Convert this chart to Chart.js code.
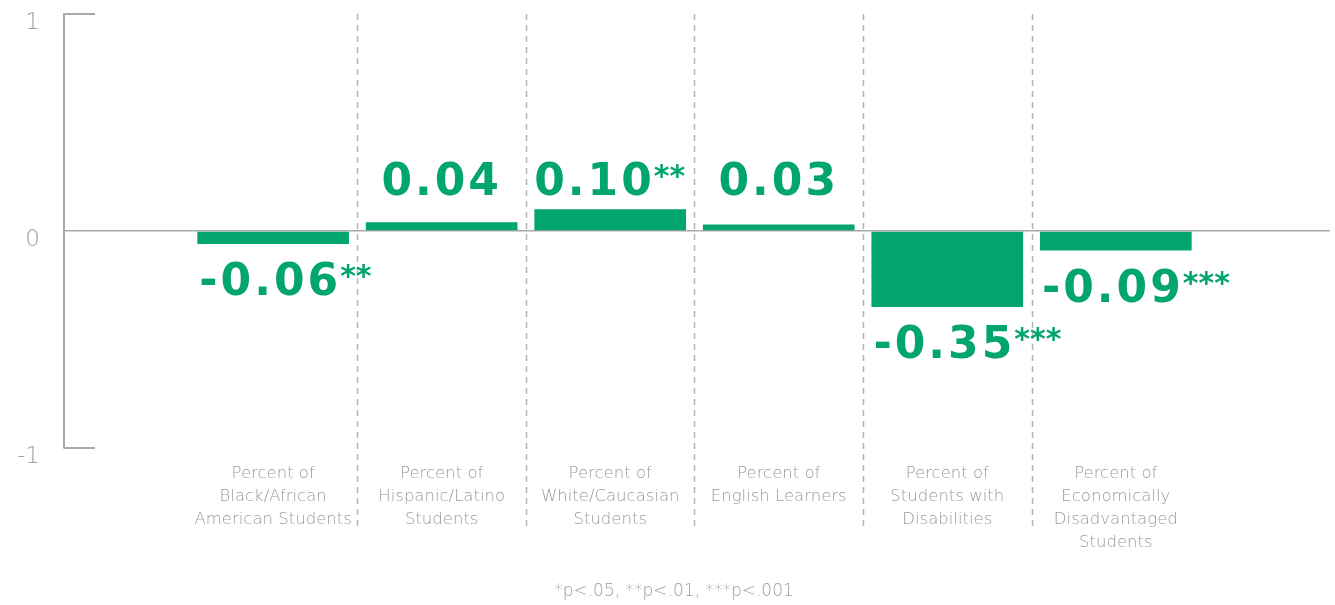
<!DOCTYPE html>
<html>
<head>
<meta charset="utf-8">
<script src="https://cdn.jsdelivr.net/npm/chart.js@4/dist/chart.umd.min.js"></script>
<style>
  html, body { margin: 0; padding: 0; background: #fff; }
  #wrap { width: 1335px; height: 605px; position: relative; }
</style>
</head>
<body>
<div id="wrap"><canvas id="effectChart"></canvas></div>
<script>
// categories (one entry per bar, split into the printed lines)
const categories = [
  ['Percent of', 'Black/African', 'American Students'],
  ['Percent of', 'Hispanic/Latino', 'Students'],
  ['Percent of', 'White/Caucasian', 'Students'],
  ['Percent of', 'English Learners'],
  ['Percent of', 'Students with', 'Disabilities'],
  ['Percent of', 'Economically', 'Disadvantaged', 'Students']
];
const effects = [-0.06, 0.04, 0.10, 0.03, -0.35, -0.09];
const stars = ['**', '', '**', '', '***', '***'];
const yTicks = [-1, 0, 1];
const footnote = '*p<.05, **p<.01, ***p<.001';

const green = '#02a56b';
const grey = '#a9a9a9';

// dashed separators, short axis ticks, value labels and footnote
const decorations = {
  id: 'decorations',
  beforeDatasetsDraw(chart) {
    const { ctx, chartArea, scales: { x, y } } = chart;
    ctx.save();
    ctx.strokeStyle = '#b4b4b4';
    ctx.lineWidth = 1.5;
    ctx.setLineDash([6, 5]);
    for (let i = 0; i < categories.length - 1; i++) {
      const px = Math.round(x.getPixelForValue(i + 0.5)) + 0.5;
      ctx.beginPath();
      ctx.moveTo(px, chartArea.top);
      ctx.lineTo(px, chartArea.bottom + 82);
      ctx.stroke();
    }
    ctx.setLineDash([]);
    ctx.strokeStyle = grey;
    ctx.lineWidth = 2;
    [yTicks[0], yTicks[yTicks.length - 1]].forEach(v => {
      const py = y.getPixelForValue(v);
      ctx.beginPath();
      ctx.moveTo(chartArea.left, py);
      ctx.lineTo(chartArea.left + 31, py);
      ctx.stroke();
    });
    ctx.restore();
  },
  afterDatasetsDraw(chart) {
    const { ctx, scales: { y } } = chart;
    const bars = chart.getDatasetMeta(0).data;
    const numFont = 'bold 44px "DejaVu Sans"';
    const starFont = 'bold 30px "DejaVu Sans"';
    ctx.save();
    ctx.fillStyle = green;
    ctx.textBaseline = 'alphabetic';
    ctx.textAlign = 'left';
    bars.forEach((bar, i) => {
      const v = effects[i];
      const num = (v < 0 ? '-' : '') + Math.abs(v).toFixed(2);
      ctx.font = numFont;
      ctx.letterSpacing = '3px';
      const wNum = ctx.measureText(num).width;
      ctx.font = starFont;
      ctx.letterSpacing = '0px';
      const wStar = stars[i] ? ctx.measureText(stars[i]).width : 0;
      let left, base;
      if (v < 0) {
        left = bar.x - bar.width / 2 + 2;
        base = bar.y + 51;
      } else {
        left = bar.x - (wNum + wStar) / 2;
        base = y.getPixelForValue(0.165);
      }
      ctx.font = numFont;
      ctx.letterSpacing = '3px';
      ctx.fillText(num, left, base);
      if (stars[i]) {
        ctx.font = starFont;
        ctx.letterSpacing = '0px';
        ctx.fillText(stars[i], left + wNum - 1, base - 9);
      }
    });
    ctx.letterSpacing = '0px';
    ctx.font = '200 17px "DejaVu Sans"';
    ctx.fillStyle = '#9a9a9a';
    ctx.textAlign = 'center';
    ctx.textBaseline = 'middle';
    ctx.fillText(footnote, 674, 592);
    ctx.restore();
  }
};

const ctx = document.getElementById('effectChart').getContext('2d');
const effectChart = new Chart(ctx, {
  type: 'bar',
  data: {
    datasets: [{
      data: effects.map((v, i) => ({ x: i, y: v })),
      backgroundColor: green,
      borderWidth: 0,
      categoryPercentage: 1.0,
      barPercentage: 0.9
    }]
  },
  options: {
    responsive: true,
    maintainAspectRatio: false,
    animation: false,
    layout: { padding: { top: 14, right: 5, left: 0, bottom: 0 } },
    plugins: {
      legend: { display: false },
      tooltip: { enabled: false }
    },
    scales: {
      x: {
        type: 'linear',
        offset: false,
        min: -1.241,
        max: 6.271,
        afterBuildTicks: scale => {
          scale.ticks = categories.map((c, i) => ({ value: i }));
        },
        afterFit: scale => {
          scale.height = 157;
          scale.paddingLeft = 0;
          scale.paddingRight = 0;
        },
        grid: { display: false, drawTicks: false },
        border: { display: false },
        ticks: {
          autoSkip: false,
          maxRotation: 0,
          padding: 14,
          color: '#9a9a9a',
          font: { family: '"DejaVu Sans"', size: 16.5, weight: '200', lineHeight: 1.4 },
          callback: v => categories[v] || ''
        }
      },
      y: {
        min: -1,
        max: 1,
        afterBuildTicks: scale => {
          scale.ticks = yTicks.map(v => ({ value: v }));
        },
        afterFit: scale => {
          scale.width = 64;
          scale.paddingTop = 0;
          scale.paddingBottom = 0;
        },
        grid: {
          drawTicks: false,
          color: c => (c.tick && c.tick.value === 0 ? grey : 'transparent'),
          lineWidth: 1.5
        },
        border: { display: true, color: grey, width: 2 },
        ticks: {
          padding: 24,
          labelOffset: 9,
          color: '#a0a0a0',
          font: { family: '"DejaVu Sans"', size: 23, weight: '200' }
        }
      }
    }
  },
  plugins: [decorations]
});
</script>
</body>
</html>
